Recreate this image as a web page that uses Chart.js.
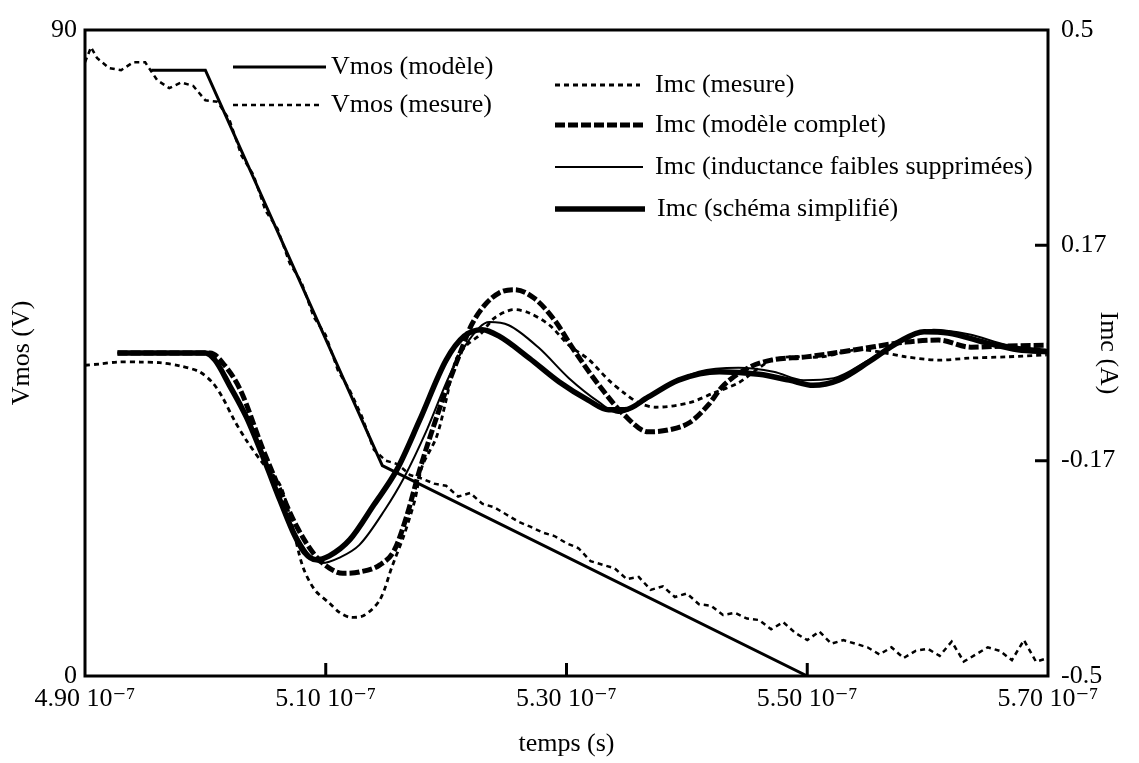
<!DOCTYPE html>
<html>
<head>
<meta charset="utf-8">
<script src="https://cdn.jsdelivr.net/npm/chart.js@4.4.1/dist/chart.umd.min.js"></script>
<style>
  html, body { margin: 0; padding: 0; background: #fff; }
</style>
</head>
<body>
<canvas id="grafik" width="1139" height="763"></canvas>
<script>
// temps en unites de 10^-7 s
const X_TICKS = [4.90, 5.10, 5.30, 5.50, 5.70];
const VMOS_TICKS = [0, 90];
const IMC_TICKS = [-0.5, -1 / 6, 1 / 6, 0.5];
const IMC_TICK_LABELS = ["-0.5", "-0.17", "0.17", "0.5"];

// Vmos (modele)
const tVmosModele = [4.955, 5.0, 5.147, 5.50];
const vmosModele = [84.4, 84.4, 29.3, 0];

// Vmos (mesure)
const tVmosMesure = [4.90, 4.905, 4.91, 4.92, 4.93, 4.94, 4.95, 4.96, 4.97, 4.98, 4.99,
  5.00, 5.01, 5.02, 5.03, 5.04, 5.05, 5.06, 5.07, 5.08, 5.09,
  5.10, 5.11, 5.12, 5.13, 5.14, 5.15, 5.16, 5.17, 5.18, 5.19,
  5.20, 5.21, 5.22, 5.23, 5.24, 5.25, 5.26, 5.27, 5.28, 5.29,
  5.30, 5.31, 5.32, 5.33, 5.34, 5.35, 5.36, 5.37, 5.38, 5.39,
  5.40, 5.41, 5.42, 5.43, 5.44, 5.45, 5.46, 5.47, 5.48, 5.49,
  5.50, 5.51, 5.52, 5.53, 5.54, 5.55, 5.56, 5.57, 5.58, 5.59,
  5.60, 5.61, 5.62, 5.63, 5.64, 5.65, 5.66, 5.67, 5.68, 5.69, 5.70];
const vmosMesure = [85.5, 87.6, 86.1, 84.7, 84.4, 85.5, 85.5, 83.0, 81.9, 82.7, 82.2,
  80.2, 80.0, 77.5, 72.5, 69.8, 64.8, 62.3, 57.5, 54.8, 50.0,
  47.5, 42.6, 39.8, 36.2, 31.5, 30.0, 29.5, 28.0, 27.5, 26.8,
  26.5, 25.0, 25.5, 24.0, 23.5, 22.5, 21.5, 20.8, 20.0, 19.5,
  18.5, 17.8, 16.0, 15.5, 15.0, 13.5, 13.8, 12.0, 12.5, 11.0,
  11.5, 10.0, 9.8, 8.5, 8.8, 8.0, 7.8, 6.5, 7.5, 6.0,
  5.0, 6.2, 4.5, 5.0, 4.5, 4.0, 3.0, 4.0, 2.5, 3.5,
  3.8, 2.8, 4.8, 2.0, 3.0, 4.0, 3.5, 2.2, 5.0, 2.0, 2.5];

// Imc (mesure)
const tImcMesure = [4.900, 4.912, 4.927, 4.946, 4.962, 4.979, 4.995, 5.006, 5.014, 5.024,
  5.034, 5.047, 5.062, 5.072, 5.081, 5.091, 5.103, 5.111, 5.120, 5.132,
  5.145, 5.155, 5.165, 5.174, 5.180, 5.192, 5.200, 5.208, 5.217, 5.228,
  5.240, 5.255, 5.269, 5.286, 5.302, 5.319, 5.335, 5.348, 5.360, 5.374,
  5.402, 5.422, 5.443, 5.460, 5.470, 5.485, 5.512, 5.540, 5.559, 5.582,
  5.609, 5.634, 5.665, 5.699];
const imcMesure = [-0.019, -0.017, -0.014, -0.014, -0.015, -0.020, -0.029, -0.046, -0.068, -0.104,
  -0.135, -0.169, -0.204, -0.266, -0.331, -0.367, -0.387, -0.401, -0.409, -0.406,
  -0.382, -0.331, -0.282, -0.228, -0.176, -0.130, -0.073, -0.011, 0.012, 0.028,
  0.054, 0.067, 0.062, 0.043, 0.012, -0.011, -0.042, -0.062, -0.077, -0.084,
  -0.077, -0.062, -0.046, -0.023, -0.011, -0.006, -0.006, 0.005, 0.002, -0.006,
  -0.011, -0.008, -0.006, -0.003];

// Imc (modele complet)
const tImcComplet = [4.927, 5.004, 5.016, 5.029, 5.048, 5.062, 5.076, 5.091, 5.103, 5.114,
  5.128, 5.145, 5.157, 5.167, 5.178, 5.190, 5.200, 5.211, 5.221, 5.232,
  5.244, 5.257, 5.273, 5.290, 5.306, 5.327, 5.348, 5.368, 5.385, 5.402,
  5.418, 5.429, 5.451, 5.470, 5.499, 5.540, 5.582, 5.609, 5.636, 5.667, 5.699];
const imcComplet = [0, 0, -0.019, -0.057, -0.150, -0.212, -0.269, -0.313, -0.333, -0.341,
  -0.339, -0.328, -0.305, -0.254, -0.181, -0.111, -0.057, -0.003, 0.043, 0.074,
  0.093, 0.098, 0.085, 0.051, 0.005, -0.050, -0.096, -0.122, -0.119, -0.108,
  -0.080, -0.053, -0.023, -0.011, -0.006, 0.005, 0.017, 0.020, 0.009, 0.011, 0.012];

// Imc (inductance faibles supprimees)
const tImcInduct = [4.927, 5.000, 5.010, 5.023, 5.037, 5.052, 5.064, 5.077, 5.087, 5.097,
  5.111, 5.128, 5.149, 5.165, 5.184, 5.203, 5.219, 5.236, 5.252, 5.277,
  5.302, 5.327, 5.343, 5.360, 5.381, 5.410, 5.443, 5.472, 5.497, 5.522,
  5.551, 5.580, 5.605, 5.634, 5.667, 5.699];
const imcInduct = [0, 0, -0.014, -0.057, -0.111, -0.178, -0.235, -0.286, -0.314, -0.325,
  -0.317, -0.297, -0.243, -0.193, -0.119, -0.034, 0.020, 0.048, 0.043, 0.008,
  -0.039, -0.076, -0.093, -0.080, -0.054, -0.029, -0.023, -0.029, -0.042, -0.039,
  -0.011, 0.020, 0.036, 0.029, 0.012, 0.005];

// Imc (schema simplifie)
const tImcSimpl = [4.927, 5.000, 5.008, 5.020, 5.034, 5.049, 5.062, 5.074, 5.082, 5.092,
  5.103, 5.120, 5.140, 5.159, 5.178, 5.200, 5.215, 5.230, 5.244, 5.269,
  5.294, 5.318, 5.335, 5.348, 5.368, 5.393, 5.427, 5.460, 5.485, 5.505,
  5.526, 5.551, 5.576, 5.597, 5.617, 5.650, 5.675, 5.700];
const imcSimpl = [0, 0, -0.011, -0.050, -0.099, -0.166, -0.228, -0.282, -0.308, -0.320,
  -0.314, -0.289, -0.235, -0.181, -0.104, -0.011, 0.026, 0.036, 0.026, -0.008,
  -0.045, -0.073, -0.088, -0.088, -0.068, -0.042, -0.029, -0.033, -0.042, -0.050,
  -0.042, -0.014, 0.017, 0.033, 0.031, 0.015, 0.005, 0.002];

const SERIF = "'Liberation Serif', 'DejaVu Serif', serif";
const TAILLE = 26;

function pasangkan(ts, vs) {
  return ts.map((t, i) => ({ x: t, y: vs[i] }));
}

// cadre + graduations interieures
const cadre = {
  id: "cadre",
  afterDatasetsDraw(chart) {
    const { ctx, chartArea: a, scales } = chart;
    ctx.save();
    ctx.strokeStyle = "#000";
    ctx.lineWidth = 3;
    ctx.strokeRect(a.left, a.top, a.right - a.left, a.bottom - a.top);
    ctx.beginPath();
    X_TICKS.slice(1, -1).forEach((v) => {
      const x = scales.x.getPixelForValue(v);
      ctx.moveTo(x, a.bottom);
      ctx.lineTo(x, a.bottom - 13);
    });
    IMC_TICKS.slice(1, -1).forEach((v) => {
      const y = scales.y1.getPixelForValue(v);
      ctx.moveTo(a.right, y);
      ctx.lineTo(a.right - 13, y);
    });
    ctx.stroke();
    ctx.restore();
  },
};

// legende dessinee a la main (deux blocs)
const legende = {
  id: "legende",
  afterDraw(chart) {
    const spots = [
      { x0: 233, x1: 326, tx: 331, y: 67 },
      { x0: 233, x1: 322, tx: 331, y: 105 },
      { x0: 555, x1: 640, tx: 655, y: 85 },
      { x0: 555, x1: 643, tx: 655, y: 125 },
      { x0: 555, x1: 643, tx: 655, y: 167 },
      { x0: 555, x1: 645, tx: 657, y: 209 },
    ];
    const { ctx } = chart;
    ctx.save();
    chart.data.datasets.forEach((ds, i) => {
      const s = spots[i];
      ctx.strokeStyle = "#000";
      ctx.lineWidth = ds.borderWidth;
      ctx.setLineDash(ds.borderDash || []);
      ctx.beginPath();
      ctx.moveTo(s.x0, s.y);
      ctx.lineTo(s.x1, s.y);
      ctx.stroke();
      ctx.setLineDash([]);
      ctx.fillStyle = "#000";
      ctx.font = TAILLE + "px " + SERIF;
      ctx.textBaseline = "middle";
      ctx.fillText(ds.label, s.tx, s.y);
    });
    ctx.restore();
  },
};

const ctx = document.getElementById("grafik").getContext("2d");
new Chart(ctx, {
  type: "line",
  data: {
    datasets: [
      {
        label: "Vmos (modèle)",
        data: pasangkan(tVmosModele, vmosModele),
        yAxisID: "y",
        borderColor: "#000",
        borderWidth: 3,
        tension: 0,
      },
      {
        label: "Vmos (mesure)",
        data: pasangkan(tVmosMesure, vmosMesure),
        yAxisID: "y",
        borderColor: "#000",
        borderWidth: 2.5,
        borderDash: [5, 4],
        tension: 0,
      },
      {
        label: "Imc (mesure)",
        data: pasangkan(tImcMesure, imcMesure),
        yAxisID: "y1",
        borderColor: "#000",
        borderWidth: 2.8,
        borderDash: [5, 4],
        tension: 0.3,
      },
      {
        label: "Imc (modèle complet)",
        data: pasangkan(tImcComplet, imcComplet),
        yAxisID: "y1",
        borderColor: "#000",
        borderWidth: 5,
        borderDash: [10, 3],
        cubicInterpolationMode: "monotone",
      },
      {
        label: "Imc (inductance faibles supprimées)",
        data: pasangkan(tImcInduct, imcInduct),
        yAxisID: "y1",
        borderColor: "#000",
        borderWidth: 2,
        cubicInterpolationMode: "monotone",
      },
      {
        label: "Imc (schéma simplifié)",
        data: pasangkan(tImcSimpl, imcSimpl),
        yAxisID: "y1",
        borderColor: "#000",
        borderWidth: 5.5,
        cubicInterpolationMode: "monotone",
      },
    ],
  },
  options: {
    responsive: false,
    animation: false,
    events: [],
    layout: { padding: { top: 30, left: 0, right: 0, bottom: 0 } },
    elements: { point: { radius: 0 } },
    plugins: { legend: { display: false }, tooltip: { enabled: false } },
    scales: {
      x: {
        type: "linear",
        min: 4.9,
        max: 5.7,
        afterBuildTicks: (s) => { s.ticks = X_TICKS.map((v) => ({ value: v })); },
        afterFit: (s) => { s.height = 87; },
        grid: { display: false, drawTicks: false },
        border: { display: false },
        ticks: {
          color: "#000",
          font: { family: SERIF, size: TAILLE },
          padding: 8,
          maxRotation: 0,
          callback: (v) => v.toFixed(2) + " 10⁻⁷",
        },
        title: {
          display: true,
          text: "temps (s)",
          color: "#000",
          font: { family: SERIF, size: TAILLE },
          padding: { top: 0, bottom: 3 },
        },
      },
      y: {
        position: "left",
        min: 0,
        max: 90,
        afterBuildTicks: (s) => { s.ticks = VMOS_TICKS.map((v) => ({ value: v })); },
        afterFit: (s) => { s.width = 85; },
        grid: { display: false, drawTicks: false },
        border: { display: false },
        ticks: {
          color: "#000",
          font: { family: SERIF, size: TAILLE },
          padding: 8,
        },
        title: {
          display: true,
          text: "Vmos (V)",
          color: "#000",
          font: { family: SERIF, size: TAILLE },
          padding: { top: 7, bottom: 0 },
        },
      },
      y1: {
        position: "right",
        min: -0.5,
        max: 0.5,
        afterBuildTicks: (s) => { s.ticks = IMC_TICKS.map((v) => ({ value: v })); },
        afterFit: (s) => { s.width = 91; },
        grid: { display: false, drawTicks: false },
        border: { display: false },
        ticks: {
          color: "#000",
          font: { family: SERIF, size: TAILLE },
          padding: 13,
          callback: (v, i) => IMC_TICK_LABELS[i],
        },
        title: {
          display: true,
          text: "Imc (A)",
          color: "#000",
          font: { family: SERIF, size: TAILLE },
          padding: { top: 16, bottom: 0 },
        },
      },
    },
  },
  plugins: [cadre, legende],
});
</script>
</body>
</html>
